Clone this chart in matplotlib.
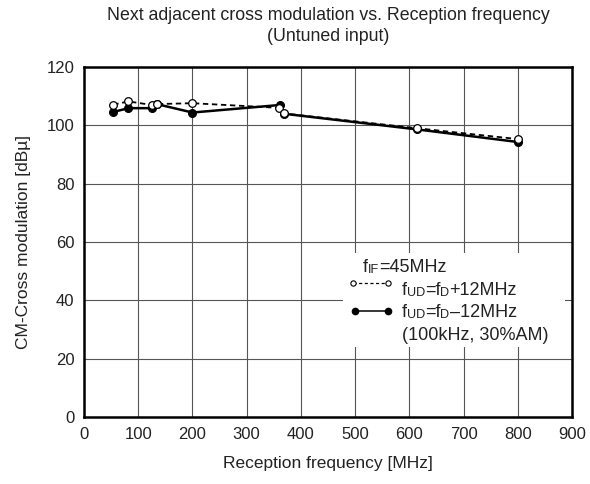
import matplotlib
matplotlib.use('Agg')
import matplotlib.pyplot as plt
from matplotlib.patches import Rectangle

plt.rcParams['font.family'] = ['Liberation Sans', 'DejaVu Sans']

# fUD = fD + 12MHz (open circles, dashed)
freq_plus = [54, 82, 125, 134, 200, 360, 368, 615, 800]
cm_plus = [107.1, 108.2, 107.0, 107.3, 107.6, 106.0, 104.1, 99.0, 95.3]

# fUD = fD - 12MHz (filled circles, solid)
freq_minus = [54, 82, 125, 134, 200, 362, 368, 615, 800]
cm_minus = [104.6, 105.9, 105.9, 107.3, 104.4, 107.0, 104.0, 98.6, 94.3]

x_ticks = list(range(0, 1000, 100))
y_ticks = list(range(0, 140, 20))

txt = '#222222'

fig = plt.figure(figsize=(5.9, 4.84), dpi=100)
ax = fig.add_axes([0.1424, 0.1384, 0.8271, 0.7231])

ax.plot(freq_minus, cm_minus, '-', color='black', lw=1.8,
        marker='o', ms=5.5, mfc='black', mec='black', zorder=4)
ax.plot(freq_plus, cm_plus, '--', color='black', lw=1.3, dashes=(3, 2),
        marker='o', ms=5.5, mfc='white', mec='black', mew=0.9, zorder=5)

ax.set_xlim(0, 900)
ax.set_ylim(0, 120)
ax.set_xticks(x_ticks)
ax.set_yticks(y_ticks)
ax.tick_params(length=0, pad=7, labelsize=12, colors=txt)
ax.grid(True, color='#555555', lw=0.8)
ax.set_axisbelow(True)
for s in ax.spines.values():
    s.set_linewidth(1.8)

ax.set_xlabel('Reception frequency [MHz]', fontsize=12.5, color=txt, labelpad=10)
ax.set_ylabel('CM-Cross modulation [dBµ]', fontsize=12.5, color=txt, labelpad=11)
ax.set_title('Next adjacent cross modulation vs. Reception frequency\n(Untuned input)',
             fontsize=12.8, color=txt, pad=19, linespacing=1.25)

# legend block (white box hides grid)
ax.add_patch(Rectangle((0.531, 0.2), 0.455, 0.269, transform=ax.transAxes,
                       facecolor='white', edgecolor='none', zorder=1))


def rich(x, y, parts, size=13):
    t = ax.text(x, y, parts[0][0], transform=ax.transAxes, fontsize=size * parts[0][1],
                va='bottom', ha='left', color=txt, zorder=6)
    for s, k in parts[1:]:
        t = ax.annotate(s, xy=(1, 0), xycoords=t, fontsize=size * k,
                        va='bottom', ha='left', color=txt, zorder=6)


rich(0.572, 0.402, [('f', 1), ('IF', 0.7), ('=45MHz', 1)])
rich(0.651, 0.337, [('f', 1), ('UD', 0.7), ('=f', 1), ('D', 0.7), ('+12MHz', 1)])
rich(0.651, 0.273, [('f', 1), ('UD', 0.7), ('=f', 1), ('D', 0.7), ('\u201312MHz', 1)])
rich(0.651, 0.209, [('(100kHz, 30%AM)', 1)])

ax.plot([0.551, 0.623], [0.383, 0.383], transform=ax.transAxes, color='black',
        lw=0.9, dashes=(2.5, 2), marker='o', ms=3.8, mfc='white', mec='black',
        mew=0.8, zorder=6)
ax.plot([0.555, 0.623], [0.303, 0.303], transform=ax.transAxes, color='black',
        lw=1.1, marker='o', ms=4.5, mfc='black', mec='black', zorder=6)

fig.savefig('out.png', dpi=100)
